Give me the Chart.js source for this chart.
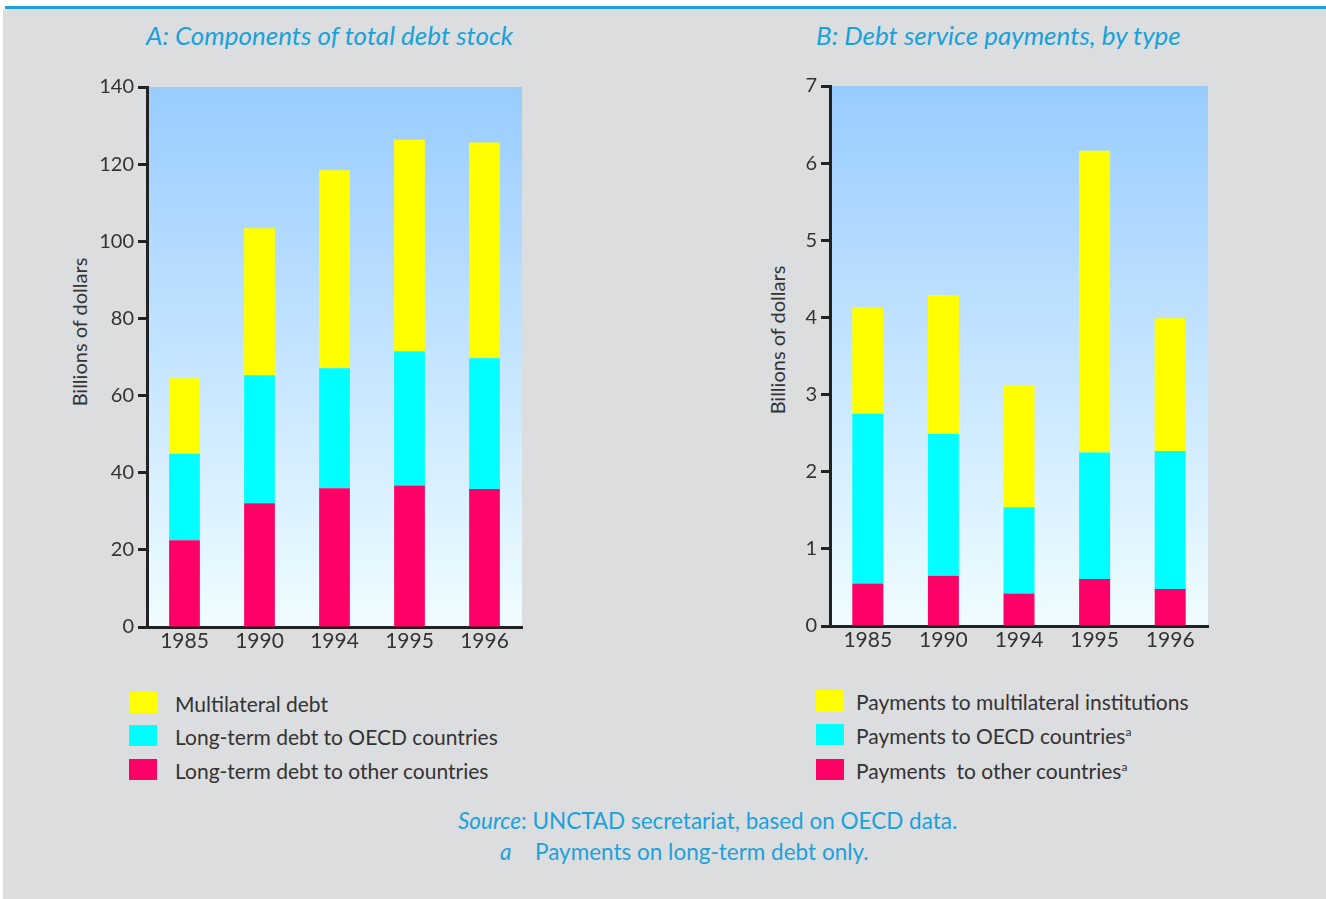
<!DOCTYPE html>
<html>
<head>
<meta charset="utf-8">
<script src="https://cdn.jsdelivr.net/npm/chart.js@4.4.1/dist/chart.umd.min.js"></script>
<style>
  body { margin: 0; background: #fff; width: 1326px; height: 899px; overflow: hidden; font-family: Lato, "Noto Sans", sans-serif; }
  .topline { position: absolute; left: 5px; top: 6px; width: 1321px; height: 3px; background: #1ba1dc; }
  .panel { position: absolute; left: 3px; top: 9px; width: 1323px; height: 890px; background: #dcdddf; }
  .title { position: absolute; top: 19px; font-style: italic; font-size: 26px; color: #17a2dc; white-space: nowrap; }
  .ytitle { position: absolute; font-size: 20px; color: #333; white-space: nowrap; transform: translate(-50%, -50%) rotate(-90deg); }
  .box { position: absolute; }
  .legend { position: absolute; left: 0; top: 0; font-size: 21px; color: #333; }
  .legend .sw { position: absolute; width: 28px; height: 21px; }
  .legend .lbl { position: absolute; white-space: nowrap; transform: translateY(-50%); }
  .legend sup { font-size: 12px; vertical-align: 8px; }
  .note { position: absolute; font-size: 22.5px; color: #1ba1dc; white-space: nowrap; }
</style>
</head>
<body>
<div class="topline"></div>
<div class="panel"></div>

<div class="title" style="left:146px">A: Components of total debt stock</div>
<div class="title" style="left:816px">B: Debt service payments, by type</div>

<div class="ytitle" style="left:79px; top:332px">Billions of dollars</div>
<div class="ytitle" style="left:777px; top:340px">Billions of dollars</div>

<div class="box" style="left:40px; top:60px; width:500px; height:610px"><canvas id="chartA"></canvas></div>
<div class="box" style="left:720px; top:60px; width:510px; height:610px"><canvas id="chartB"></canvas></div>

<div class="legend" id="legendA"></div>
<div class="legend" id="legendB"></div>

<div class="note" style="left:458px; top:807px"><i>Source</i>:&nbsp;UNCTAD secretariat, based on OECD data.</div>
<div class="note" style="left:500px; top:838px"><i>a</i></div>
<div class="note" style="left:535px; top:838px">Payments on long-term debt only.</div>

<script>
const years = ['1985', '1990', '1994', '1995', '1996'];

// A: debt stock, billions of dollars
const stockOther = [22.5, 32.1, 36.0, 36.7, 35.8];
const stockOECD = [22.4, 33.2, 31.1, 34.8, 33.9];
const stockMulti = [19.6, 38.1, 51.3, 54.8, 55.9];

// B: debt service payments, billions of dollars
const payOther = [0.55, 0.65, 0.42, 0.61, 0.48];
const payOECD = [2.20, 1.84, 1.12, 1.64, 1.79];
const payMulti = [1.38, 1.80, 1.58, 3.91, 1.72];

const yTicksA = { max: 140, step: 20 };
const yTicksB = { max: 7, step: 1 };

const legendA = ['Multilateral debt', 'Long-term debt to OECD countries', 'Long-term debt to other countries'];
const legendB = ['Payments to multilateral institutions', 'Payments to OECD countries<sup>a</sup>', 'Payments&nbsp; to other countries<sup>a</sup>'];

const RED = '#ff0066', CYAN = '#00ffff', YELLOW = '#ffff00';
const INK = '#333333';
const FONT = 'Lato, "Noto Sans", sans-serif';

// sky-blue gradient behind the bars
const skyBackground = {
  id: 'skyBackground',
  beforeDraw(chart) {
    const { ctx, chartArea: a } = chart;
    const g = ctx.createLinearGradient(0, a.top, 0, a.bottom);
    g.addColorStop(0, '#99ccff');
    g.addColorStop(1, '#f0fdff');
    ctx.save();
    ctx.fillStyle = g;
    ctx.fillRect(a.left, a.top, a.right - a.left, a.bottom - a.top);
    ctx.restore();
  }
};

function makeChart(id, series, ticks, pad, yWidth, xHeight) {
  return new Chart(document.getElementById(id), {
    type: 'bar',
    data: {
      labels: years,
      datasets: series.map(([data, color]) => ({
        data,
        backgroundColor: color,
        borderWidth: 0,
        categoryPercentage: 1,
        barPercentage: 0.41
      }))
    },
    options: {
      responsive: true,
      maintainAspectRatio: false,
      animation: false,
      layout: { padding: pad },
      plugins: { legend: { display: false }, tooltip: { enabled: false } },
      scales: {
        x: {
          stacked: true,
          grid: { display: false, drawTicks: false },
          border: { display: true, color: '#222', width: 3 },
          ticks: { color: INK, font: { family: FONT, size: 21 }, padding: 2, maxRotation: 0 },
          afterFit: s => { s.height = xHeight; }
        },
        y: {
          stacked: true,
          min: 0,
          max: ticks.max,
          grid: { drawOnChartArea: false, drawTicks: true, tickLength: 9, tickWidth: 3, tickColor: '#222' },
          border: { display: true, color: '#222', width: 3 },
          ticks: { stepSize: ticks.step, color: INK, font: { family: FONT, size: 20 }, padding: 4 },
          afterFit: s => { s.width = yWidth; }
        }
      }
    },
    plugins: [skyBackground]
  });
}

makeChart('chartA',
  [[stockOther, RED], [stockOECD, CYAN], [stockMulti, YELLOW]],
  yTicksA, { top: 27, right: 18, left: 0, bottom: 0 }, 107, 43);

makeChart('chartB',
  [[payOther, RED], [payOECD, CYAN], [payMulti, YELLOW]],
  yTicksB, { top: 26, right: 22, left: 0, bottom: 0 }, 110, 44);

function buildLegend(id, labels, colors, swX, swTops, textX) {
  const el = document.getElementById(id);
  labels.forEach((text, i) => {
    const sw = document.createElement('div');
    sw.className = 'sw';
    sw.style.left = swX + 'px';
    sw.style.top = swTops[i] + 'px';
    sw.style.background = colors[i];
    el.appendChild(sw);
    const lbl = document.createElement('div');
    lbl.className = 'lbl';
    lbl.style.left = textX + 'px';
    lbl.style.top = (swTops[i] + 11) + 'px';
    lbl.innerHTML = text;
    el.appendChild(lbl);
  });
}

buildLegend('legendA', legendA, [YELLOW, CYAN, RED], 129, [692, 725, 759], 175);
buildLegend('legendB', legendB, [YELLOW, CYAN, RED], 816, [690, 724, 759], 856);
</script>
</body>
</html>
